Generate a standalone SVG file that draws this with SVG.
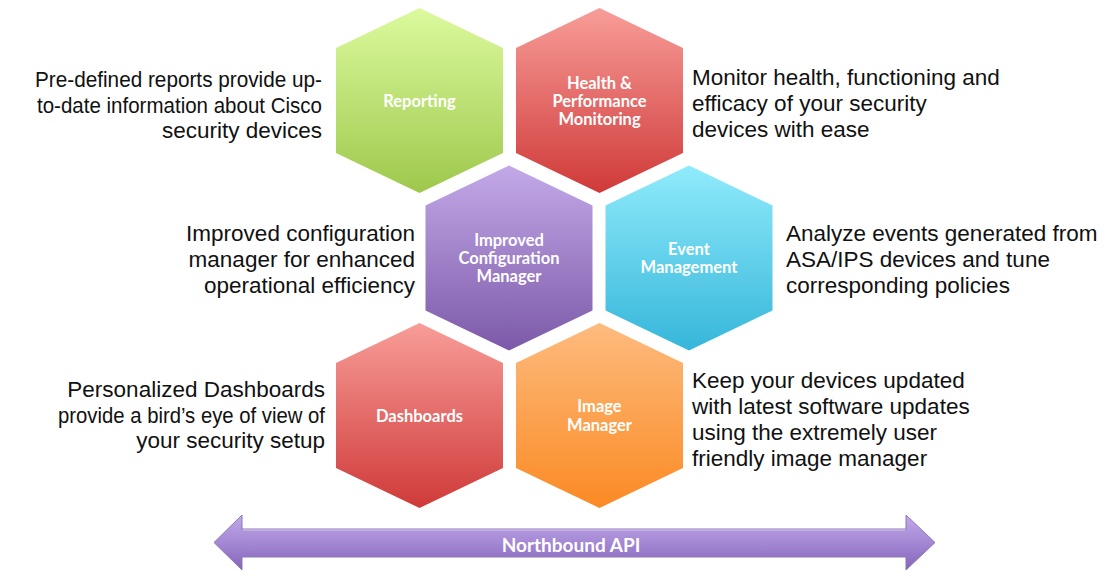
<svg xmlns="http://www.w3.org/2000/svg" xmlns:xlink="http://www.w3.org/1999/xlink" width="1106" height="572" viewBox="0 0 1106 572">
  <style>
    .lbl { font-family: Lato, "Open Sans", sans-serif; font-weight: bold; font-size: 16.5px; fill: #ffffff; text-anchor: middle; }
    .desc { font-family: "Liberation Sans", Arial, sans-serif; font-size: 22.5px; fill: #111111; }
    .l { text-anchor: end; }
    .api { font-family: Lato, "Open Sans", sans-serif; font-weight: bold; font-size: 19px; fill: #ffffff; text-anchor: middle; }
  </style>
  <defs>
    <!-- pointy-top hexagon centred on the origin -->
    <polygon id="hex" points="0,-92.5 83.5,-52.5 83.5,52.5 0,92.5 -83.5,52.5 -83.5,-52.5"/>
    <linearGradient id="gGreen" x1="0" y1="0" x2="0" y2="1">
      <stop offset="0" stop-color="#dcfa9e"/>
      <stop offset="1" stop-color="#9ec84c"/>
    </linearGradient>
    <linearGradient id="gRed" x1="0" y1="0" x2="0" y2="1">
      <stop offset="0" stop-color="#f89d98"/>
      <stop offset="1" stop-color="#cf3a39"/>
    </linearGradient>
    <linearGradient id="gPurple" x1="0" y1="0" x2="0" y2="1">
      <stop offset="0" stop-color="#c3a9e8"/>
      <stop offset="1" stop-color="#7c59a8"/>
    </linearGradient>
    <linearGradient id="gCyan" x1="0" y1="0" x2="0" y2="1">
      <stop offset="0" stop-color="#90ebfb"/>
      <stop offset="1" stop-color="#36b6da"/>
    </linearGradient>
    <linearGradient id="gOrange" x1="0" y1="0" x2="0" y2="1">
      <stop offset="0" stop-color="#fdbb7e"/>
      <stop offset="1" stop-color="#fb8a24"/>
    </linearGradient>
    <linearGradient id="gArrow" x1="0" y1="0" x2="0" y2="1">
      <stop offset="0" stop-color="#c2a9ea"/>
      <stop offset="0.5" stop-color="#a488d4"/>
      <stop offset="1" stop-color="#8463b8"/>
    </linearGradient>
  </defs>

  <rect width="1106" height="572" fill="#ffffff"/>

  <!-- hexagon tiles -->
  <g id="reporting">
    <use xlink:href="#hex" href="#hex" transform="translate(419.5,100.5)" fill="url(#gGreen)"/>
    <text class="lbl" x="419.5" y="107">Reporting</text>
  </g>
  <g id="health">
    <use xlink:href="#hex" href="#hex" transform="translate(599.5,100.5)" fill="url(#gRed)"/>
    <text class="lbl" x="599.5" y="88.5">Health &amp;<tspan x="599.5" dy="18">Performance</tspan><tspan x="599.5" dy="18">Monitoring</tspan></text>
  </g>
  <g id="config">
    <use xlink:href="#hex" href="#hex" transform="translate(509,258)" fill="url(#gPurple)"/>
    <text class="lbl" x="509" y="246">Improved<tspan x="509" dy="18">Configuration</tspan><tspan x="509" dy="18">Manager</tspan></text>
  </g>
  <g id="events">
    <use xlink:href="#hex" href="#hex" transform="translate(689,258)" fill="url(#gCyan)"/>
    <text class="lbl" x="689" y="255">Event<tspan x="689" dy="18">Management</tspan></text>
  </g>
  <g id="dashboards">
    <use xlink:href="#hex" href="#hex" transform="translate(419.5,415.5)" fill="url(#gRed)"/>
    <text class="lbl" x="419.5" y="421.5">Dashboards</text>
  </g>
  <g id="image">
    <use xlink:href="#hex" href="#hex" transform="translate(599.5,415.5)" fill="url(#gOrange)"/>
    <text class="lbl" x="599.5" y="412">Image<tspan x="599.5" dy="18.5">Manager</tspan></text>
  </g>

  <!-- side descriptions -->
  <g id="desc-reporting">
    <text class="desc l" x="322" y="87" textLength="287" lengthAdjust="spacingAndGlyphs">Pre-defined reports provide up-</text>
    <text class="desc l" x="322" y="112.5" textLength="285" lengthAdjust="spacingAndGlyphs">to-date information about Cisco</text>
    <text class="desc l" x="322" y="138">security devices</text>
  </g>
  <g id="desc-health">
    <text class="desc" x="692" y="85">Monitor health, functioning and<tspan x="692" dy="26">efficacy of your security</tspan><tspan x="692" dy="26">devices with ease</tspan></text>
  </g>
  <g id="desc-config">
    <text class="desc l" x="415" y="241">Improved configuration<tspan x="415" dy="26">manager for enhanced</tspan><tspan x="415" dy="26">operational efficiency</tspan></text>
  </g>
  <g id="desc-events">
    <text class="desc" x="786" y="241">Analyze events generated from<tspan x="786" dy="26">ASA/IPS devices and tune</tspan><tspan x="786" dy="26">corresponding policies</tspan></text>
  </g>
  <g id="desc-dashboards">
    <text class="desc l" x="325" y="397">Personalized Dashboards</text>
    <text class="desc l" x="325" y="422.5" textLength="267" lengthAdjust="spacingAndGlyphs">provide a bird’s eye of view of</text>
    <text class="desc l" x="325" y="448">your security setup</text>
  </g>
  <g id="desc-image">
    <text class="desc" x="692" y="388">Keep your devices updated<tspan x="692" dy="26">with latest software updates</tspan><tspan x="692" dy="26">using the extremely user</tspan><tspan x="692" dy="26">friendly image manager</tspan></text>
  </g>

  <!-- double-headed API arrow -->
  <g id="connectors">
    <g id="northbound-api">
      <polygon points="214,542.5 242,515 242,529 906,529 906,515 935,542.5 906,570 906,557 242,557 242,570" fill="url(#gArrow)" stroke="#8c78b4" stroke-width="1" stroke-linejoin="round"/>
      <line x1="243" y1="530" x2="905" y2="530" stroke="#d6c8f0" stroke-width="1"/>
      <text class="api" x="571" y="552">Northbound API</text>
    </g>
  </g>
</svg>
